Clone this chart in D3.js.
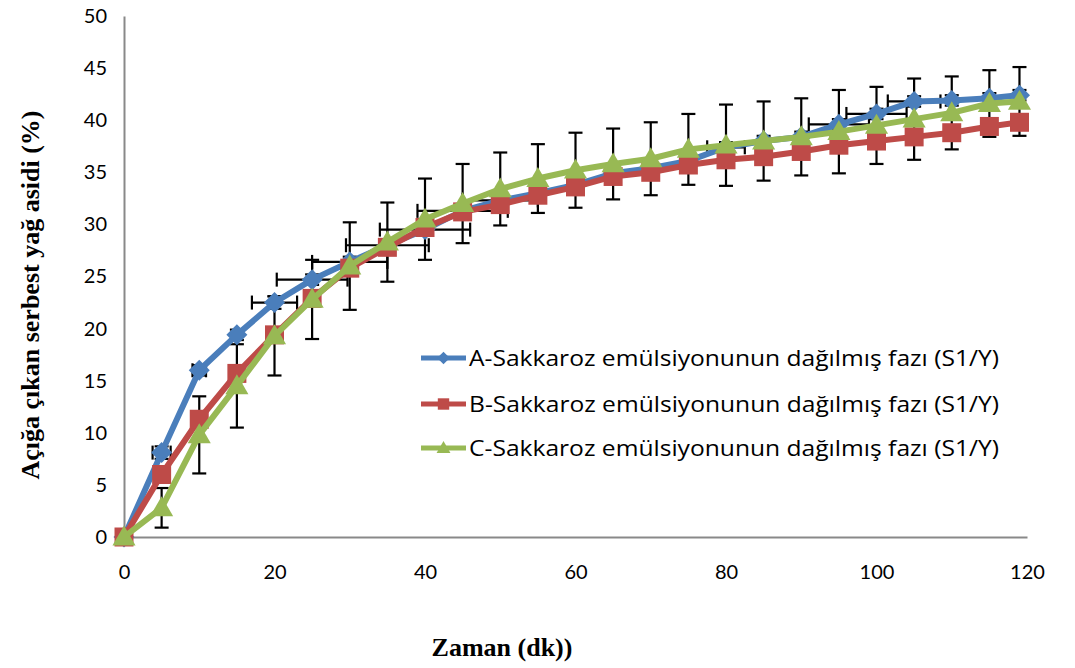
<!DOCTYPE html>
<html>
  <head>
    <meta charset="UTF-8">
    <style>
      body {
        margin: 0;
        background: white;
      }
      .tick text {
        font-family: Lato, "Open Sans", sans-serif;
        font-size: 20px;
        fill: #000;
      }
    </style>
    <script type="text/javascript" src="https://cdn.jsdelivr.net/npm/d3@7"></script>
  </head>

  <body>
    <svg id="Chart"></svg>

    <script type="text/javascript">
      // time points (dk)
      let times = [0, 5, 10, 15, 20, 25, 30, 35, 40, 45, 50, 55, 60, 65, 70, 75, 80, 85, 90, 95, 100, 105, 110, 115, 119];

      let seriesA = [0, 8.1, 16.0, 19.4, 22.5, 24.7, 26.4, 28.0, 29.5, 31.3, 32.3, 33.0, 33.8, 34.9, 35.4, 36.1, 37.4, 38.0, 38.4, 39.6, 40.6, 41.8, 41.9, 42.1, 42.4];
      let seriesB = [0, 6.0, 11.3, 15.7, 19.4, 22.9, 25.8, 27.8, 29.7, 31.2, 31.9, 32.8, 33.6, 34.6, 35.0, 35.7, 36.2, 36.5, 37.0, 37.6, 38.0, 38.4, 38.8, 39.4, 39.8];
      let seriesC = [0, 2.8, 9.8, 14.5, 19.3, 22.8, 26.0, 28.3, 30.5, 32.0, 33.4, 34.4, 35.2, 35.8, 36.3, 37.2, 37.6, 38.0, 38.4, 38.9, 39.5, 40.1, 40.7, 41.6, 41.8];

      // error bars (+/-)
      let errA = [0, 0.6, 0.5, 0.5, 0.6, 0.5, 0.5, 0.5, 0.5, 0.5, 0.5, 0.5, 0.5, 0.5, 0.5, 0.5, 0.5, 0.5, 0.5, 0.5, 0.5, 0.5, 0.5, 0.5, 0.5];
      let xErrA = [0, 1.2, 0.9, 0, 3, 4.7, 5, 5.5, 6, 6, 5, 0, 0, 0, 0, 0, 2.5, 0, 0, 4, 4, 3.5, 0, 0, 0];
      let errB = [0, 0.6, 0.5, 0.5, 0.5, 0.5, 0.5, 0.5, 0.5, 0.5, 0.5, 0.5, 0.5, 0.5, 0.5, 0.5, 0.5, 0.5, 0.5, 0.5, 0.5, 0.5, 0.5, 0.5, 0.5];
      let errC = [0, 1.9, 3.7, 4.0, 3.8, 3.8, 4.2, 3.8, 3.9, 3.8, 3.5, 3.3, 3.6, 3.4, 3.5, 3.4, 3.9, 3.8, 3.7, 4.0, 3.7, 3.9, 3.5, 3.2, 3.3];

      let seriesNames = [
        'A-Sakkaroz emülsiyonunun dağılmış fazı (S1/Y)',
        'B-Sakkaroz emülsiyonunun dağılmış fazı (S1/Y)',
        'C-Sakkaroz emülsiyonunun dağılmış fazı (S1/Y)'
      ];
      let xTicks = [0, 20, 40, 60, 80, 100, 120];
      let yTicks = [0, 5, 10, 15, 20, 25, 30, 35, 40, 45, 50];
      let xTitle = 'Zaman (dk))';
      let yTitle = 'Açığa çıkan serbest yağ asidi (%)';

      function getConfig() {
        let width = 1075;
        let height = 668;
        let margin = {top: 16, bottom: 131, left: 124, right: 48};
        let container = d3.select('#Chart')
          .attr('width', width)
          .attr('height', height);
        return {width, height, margin, container};
      }

      function getScales(config) {
        let {width, height, margin} = config;
        let xScale = d3.scaleLinear()
          .domain([0, 120])
          .range([margin.left, width - margin.right]);
        let yScale = d3.scaleLinear()
          .domain([0, 50])
          .range([height - margin.bottom, margin.top]);
        return {xScale, yScale};
      }

      // marker shapes, centred on 0,0
      function diamond(r) {
        return `M0,${-r}L${r},0L0,${r}L${-r},0Z`;
      }
      function square(r) {
        return `M${-r},${-r}H${r}V${r}H${-r}Z`;
      }
      function triangle(r) {
        return `M0,${-r * 1.1}L${r * 1.1},${r * 0.8}L${-r * 1.1},${r * 0.8}Z`;
      }

      function drawAxes(scales, config) {
        let {xScale, yScale} = scales;
        let {container, margin, height} = config;

        let axisX = d3.axisBottom(xScale).tickValues(xTicks).tickSize(0).tickPadding(28);
        let gx = container.append('g')
          .attr('transform', `translate(0, ${height - margin.bottom})`)
          .call(axisX);
        gx.select('.domain').attr('stroke', '#898989').attr('stroke-width', 2);

        let axisY = d3.axisLeft(yScale).tickValues(yTicks).tickSize(0).tickPadding(17);
        let gy = container.append('g')
          .attr('transform', `translate(${margin.left}, 0)`)
          .call(axisY);
        gy.select('.domain').attr('stroke', '#898989').attr('stroke-width', 2);

        container.append('text')
          .attr('x', 502)
          .attr('y', 656)
          .attr('text-anchor', 'middle')
          .style('font-family', '"Liberation Serif", serif')
          .style('font-weight', 'bold')
          .style('font-size', '26px')
          .text(xTitle);

        container.append('text')
          .attr('transform', `translate(39, 295) rotate(-90)`)
          .attr('text-anchor', 'middle')
          .style('font-family', '"Liberation Serif", serif')
          .style('font-weight', 'bold')
          .style('font-size', '26px')
          .text(yTitle);
      }

      function drawErrorBars(values, errs, xErrs, scales, config) {
        let {xScale, yScale} = scales;
        let g = config.container.append('g')
          .attr('stroke', '#000')
          .attr('stroke-width', 2.2)
          .attr('fill', 'none');
        let cap = 7;
        values.forEach((v, i) => {
          let x = xScale(times[i]);
          let e = errs[i];
          if (e > 0) {
            let y1 = yScale(v + e), y2 = yScale(v - e);
            g.append('line').attr('x1', x).attr('x2', x).attr('y1', y1).attr('y2', y2);
            g.append('line').attr('x1', x - cap).attr('x2', x + cap).attr('y1', y1).attr('y2', y1);
            g.append('line').attr('x1', x - cap).attr('x2', x + cap).attr('y1', y2).attr('y2', y2);
          }
          let xe = xErrs ? xErrs[i] : 0;
          if (xe > 0) {
            let y = yScale(v);
            let xa = xScale(times[i] - xe), xb = xScale(times[i] + xe);
            g.append('line').attr('x1', xa).attr('x2', xb).attr('y1', y).attr('y2', y);
            g.append('line').attr('x1', xa).attr('x2', xa).attr('y1', y - cap).attr('y2', y + cap);
            g.append('line').attr('x1', xb).attr('x2', xb).attr('y1', y - cap).attr('y2', y + cap);
          }
        });
      }

      function drawSeries(values, color, shape, size, scales, config) {
        let {xScale, yScale} = scales;
        let line = d3.line()
          .x((d, i) => xScale(times[i]))
          .y(d => yScale(d));
        let g = config.container.append('g');
        g.append('path')
          .datum(values)
          .attr('d', line)
          .attr('fill', 'none')
          .attr('stroke', color)
          .attr('stroke-width', 6)
          .attr('stroke-linejoin', 'round');
        g.selectAll('.marker')
          .data(values)
          .enter()
          .append('path')
          .attr('d', shape(size))
          .attr('transform', (d, i) => `translate(${xScale(times[i])}, ${yScale(d)})`)
          .attr('fill', color);
      }

      function drawLegend(styles, config) {
        let g = config.container.append('g');
        let rows = [358, 404, 448];
        styles.forEach((s, i) => {
          let y = rows[i];
          g.append('line')
            .attr('x1', 421).attr('x2', 466)
            .attr('y1', y).attr('y2', y)
            .attr('stroke', s.color)
            .attr('stroke-width', 5);
          g.append('path')
            .attr('d', s.shape(s.size * 0.6))
            .attr('transform', `translate(443.5, ${y})`)
            .attr('fill', s.color);
          g.append('text')
            .attr('x', 469)
            .attr('y', y + 8)
            .attr('textLength', 530)
            .attr('lengthAdjust', 'spacingAndGlyphs')
            .style('font-family', '"Open Sans", Lato, sans-serif')
            .style('font-size', '22px')
            .text(seriesNames[i]);
        });
      }

      function drawChart() {
        let config = getConfig();
        let scales = getScales(config);
        let styles = [
          {values: seriesA, color: '#4A7EBB', shape: diamond, size: 10.5},
          {values: seriesB, color: '#BE4B48', shape: square, size: 9.5},
          {values: seriesC, color: '#98B954', shape: triangle, size: 10.5}
        ];
        drawAxes(scales, config);
        drawErrorBars(seriesA, errA, xErrA, scales, config);
        drawErrorBars(seriesB, errB, null, scales, config);
        drawErrorBars(seriesC, errC, null, scales, config);
        styles.forEach(s => drawSeries(s.values, s.color, s.shape, s.size, scales, config));
        drawLegend(styles, config);
      }

      drawChart();
    </script>
  </body>
</html>
